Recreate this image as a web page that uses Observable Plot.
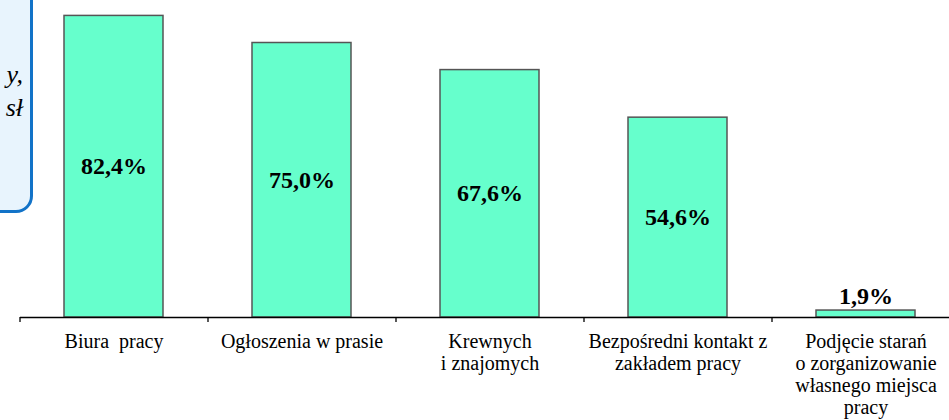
<!DOCTYPE html>
<html>
<head>
<meta charset="utf-8">
<script src="https://cdn.jsdelivr.net/npm/d3@7"></script>
<script src="https://cdn.jsdelivr.net/npm/@observablehq/plot@0.6"></script>
<style>
  html, body { margin: 0; padding: 0; background: white; width: 949px; height: 420px; overflow: hidden; }
  #wrap { position: relative; width: 949px; height: 420px; }
  #note {
    position: absolute; left: -100px; top: -20px; width: 127px; height: 227px;
    border: 3px solid #1273C8; border-radius: 0 0 17px 0; background: #E8F4FD;
    overflow: hidden; font-family: "Liberation Serif", "Times New Roman", serif; font-style: italic;
    font-size: 26px; text-align: right; box-sizing: content-box;
  }
  #note div { position: absolute; right: 7px; }
  #chart { position: absolute; left: 0; top: 0; }
  #chart svg text { font-family: "Liberation Serif", "Times New Roman", serif; }
</style>
</head>
<body>
<div id="wrap">
  <div id="note"><div style="top:77px">y,</div><div style="top:110px">sł</div></div>
  <div id="chart"></div>
</div>
<script>
const categories = ["Biura pracy", "Ogłoszenia w prasie", "Krewnych i znajomych", "Bezpośredni kontakt z zakładem pracy", "Podjęcie starań o zorganizowanie własnego miejsca pracy"];
const tickLabels = ["Biura  pracy", "Ogłoszenia w prasie", "Krewnych\ni znajomych", "Bezpośredni kontakt z\nzakładem pracy", "Podjęcie starań\no zorganizowanie\nwłasnego miejsca\npracy"];
const values = [82.4, 75.0, 67.6, 54.6, 1.9];

const data = categories.map((c, i) => ({cat: c, label: tickLabels[i], value: values[i], text: values[i].toFixed(1).replace(".", ",") + "%"}));

const xRange = [20, 960];
const step = (xRange[1] - xRange[0]) / categories.length;

const plot = Plot.plot({
  width: 949,
  height: 420,
  marginLeft: 20,
  marginRight: 0,
  marginTop: 0,
  marginBottom: 0,
  x: {domain: categories, range: xRange, paddingInner: 0.473, paddingOuter: 0.2365, axis: null},
  y: {domain: [0, 100], range: [317, -49], axis: null},
  style: {background: "transparent", overflow: "visible"},
  marks: [
    Plot.barY(data, {x: "cat", y: "value", fill: "#66FFCC", stroke: "#555", strokeWidth: 1.5}),
    Plot.ruleY([0], {stroke: "black", strokeWidth: 1.3}),
    Plot.ruleX(data, {x: "cat", dx: -step / 2, y1: 0, y2: 0, insetBottom: -5, stroke: "black", strokeWidth: 1.3}),
    Plot.text(data, {x: "cat", y: 0, text: "label", lineAnchor: "top", dy: 15, lineHeight: 1.1, fontSize: 20, fill: "black"}),
    Plot.text(data.filter(d => d.value > 10), {x: "cat", y: d => d.value / 2, text: "text", fontSize: 24, fontWeight: "bold", fill: "black"}),
    Plot.text(data.filter(d => d.value <= 10), {x: "cat", y: "value", text: "text", lineAnchor: "bottom", dy: -7, fontSize: 24, fontWeight: "bold", fill: "black"})
  ]
});
document.getElementById("chart").appendChild(plot);
</script>
</body>
</html>
